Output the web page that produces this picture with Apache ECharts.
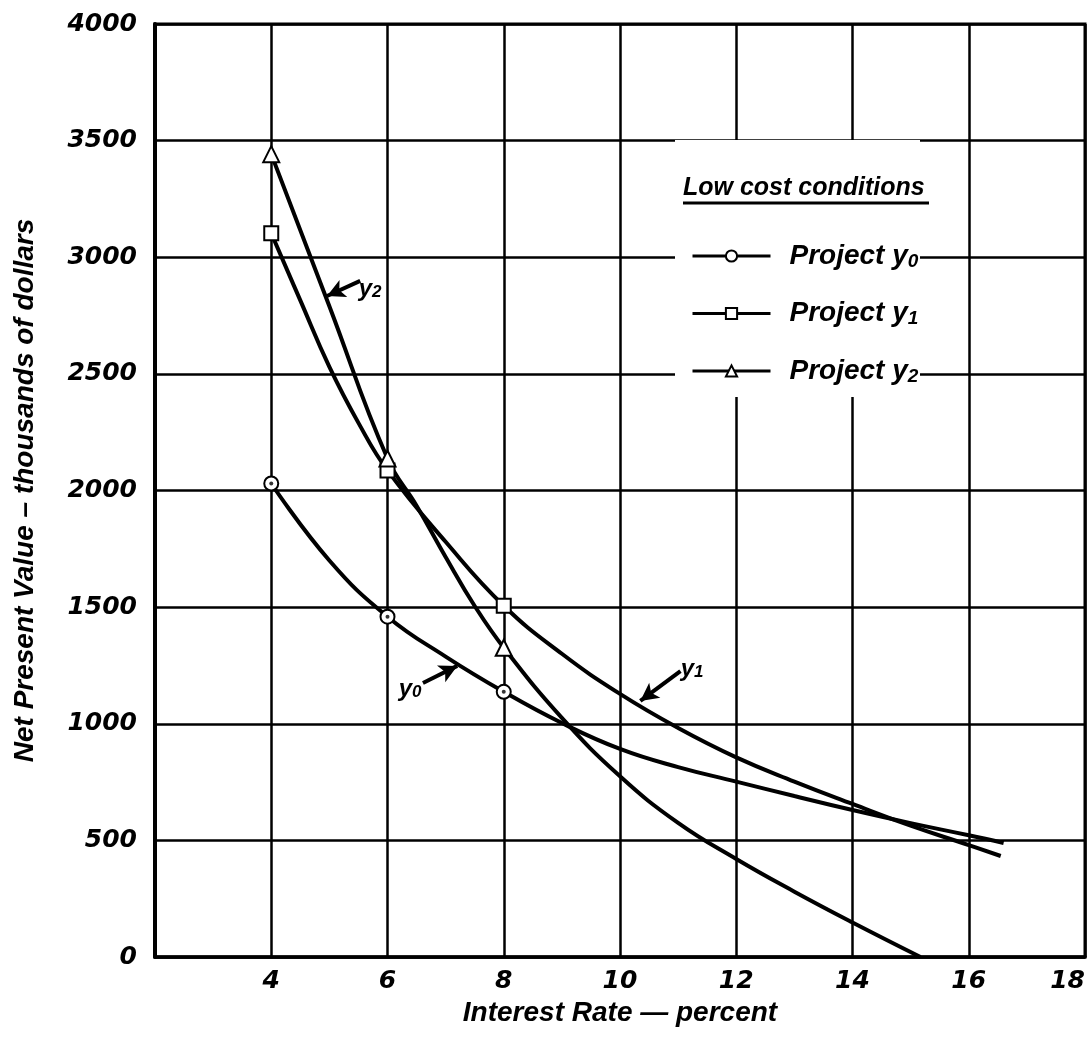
<!DOCTYPE html>
<html>
<head>
<meta charset="utf-8">
<title>Net Present Value vs Interest Rate</title>
<script src="https://cdn.jsdelivr.net/npm/echarts@6.0.0/dist/echarts.min.js"></script>
<style>
  html, body { margin: 0; padding: 0; background: #fff; }
  #chart { width: 1092px; height: 1037px; }
</style>
</head>
<body>
<div id="chart"></div>
<script>
// values (interest rate %, NPV in thousands of dollars)
const markerRates = [4, 6, 8];

const y0Rates = [4, 5, 6, 7, 8, 9, 10, 11, 12, 13, 14, 15, 16, 16.6];
const y0Values = [2030, 1700, 1459, 1288, 1137, 1003, 892, 814, 752, 690, 630, 574, 522, 489];

const y1Rates = [4, 4.5, 5, 5.5, 6, 7, 8, 9, 10, 11, 12, 13, 14, 15, 16, 16.55];
const y1Values = [3103, 2815, 2530, 2290, 2086, 1780, 1506, 1300, 1128, 982, 856, 752, 656, 563, 480, 433];

const y2Rates = [4, 5, 6, 6.5, 7, 7.5, 8, 9, 10, 11, 12, 13, 14, 15.17];
const y2Values = [3442, 2790, 2137, 1935, 1715, 1505, 1326, 1025, 775, 575, 420, 280, 148, 0];

// arrow annotations, in data units: [y0, y1, y2]
const arrowTails = [[6.61, 1175], [11.04, 1226], [5.53, 2899]];
const arrowTips = [[7.2, 1248], [10.35, 1098], [4.96, 2834]];
const labelSpots = [[6.39, 1149], [11.24, 1235], [5.7, 2864]];

const projectNames = ['Project y0', 'Project y1', 'Project y2'];
const projectSymbols = ['emptyCircle', 'emptyRect', 'emptyTriangle'];

const TICK_FONT = '"DejaVu Sans", sans-serif';
const TEXT_FONT = '"Liberation Sans", sans-serif';

const chart = echarts.init(document.getElementById('chart'));

// only the plotted points get a marker, the rest just shape the curve
const toData = (xs, ys) =>
  xs.map((x, i) => (markerRates.includes(x) ? [x, ys[i]] : { value: [x, ys[i]], symbol: 'none' }));

const subRich = {
  n: { fontFamily: TEXT_FONT, fontStyle: 'italic', fontWeight: 'bold', fontSize: 28, lineHeight: 30, color: '#000' },
  s: { fontFamily: TEXT_FONT, fontStyle: 'italic', fontWeight: 'bold', fontSize: 19, lineHeight: 10, verticalAlign: 'bottom', color: '#000' },
};

const labelRich = {
  n: { fontFamily: TEXT_FONT, fontStyle: 'italic', fontWeight: 'bold', fontSize: 24, lineHeight: 24, color: '#000' },
  s: { fontFamily: TEXT_FONT, fontStyle: 'italic', fontWeight: 'bold', fontSize: 17, lineHeight: 6, verticalAlign: 'bottom', color: '#000' },
};

const curves = [
  [y0Rates, y0Values],
  [y1Rates, y1Values],
  [y2Rates, y2Values],
];

const series = curves.map(([xs, ys], i) => ({
  name: projectNames[i],
  type: 'line',
  smooth: 0.45,
  symbol: projectSymbols[i],
  symbolSize: i === 2 ? 16 : 14,
  showAllSymbol: true,
  data: toData(xs, ys),
  lineStyle: { color: '#000', width: 4 },
  itemStyle: { color: '#000', borderWidth: 2.5 },
  z: 3,
  markLine: {
    silent: true,
    symbol: ['none', 'arrow'],
    symbolSize: [14, 18],
    lineStyle: { color: '#000', width: 4, type: 'solid' },
    label: { show: false },
    data: [[{ coord: arrowTails[i] }, { coord: arrowTips[i] }]],
  },
  markPoint: {
    silent: true,
    symbol: 'circle',
    symbolSize: 1,
    itemStyle: { color: 'rgba(0,0,0,0)' },
    label: {
      show: true,
      position: 'inside',
      formatter: '{n|y}{s|' + i + '}',
      rich: labelRich,
    },
    data: [{ coord: labelSpots[i] }],
  },
}));

// small dots inside the y0 circles
series.push({
  name: 'y0 dot',
  type: 'scatter',
  symbol: 'circle',
  symbolSize: 4,
  itemStyle: { color: '#000' },
  data: markerRates.map((x) => [x, y0Values[y0Rates.indexOf(x)]]),
  z: 4,
  silent: true,
});

const option = {
  backgroundColor: '#fff',
  animation: false,
  grid: {
    left: 155,
    right: 7,
    top: 24,
    bottom: 80,
    outerBoundsMode: 'none',
    show: true,
    borderColor: '#000',
    borderWidth: 3,
  },
  xAxis: {
    type: 'value',
    min: 2,
    max: 18,
    interval: 2,
    name: 'Interest Rate — percent',
    nameLocation: 'middle',
    nameGap: 40,
    nameTextStyle: { fontFamily: TEXT_FONT, fontStyle: 'italic', fontWeight: 'bold', fontSize: 28, color: '#000' },
    axisLine: { show: true, lineStyle: { color: '#000', width: 3.5 } },
    axisTick: { show: false },
    splitLine: { show: true, lineStyle: { color: '#000', width: 2.5 } },
    axisLabel: {
      margin: 12,
      fontFamily: TICK_FONT,
      fontStyle: 'italic',
      fontWeight: 'bold',
      fontSize: 25,
      color: '#000',
      alignMaxLabel: 'right',
      formatter: (v) => (v === 2 ? '' : String(v)),
    },
  },
  yAxis: {
    type: 'value',
    min: 0,
    max: 4000,
    interval: 500,
    name: 'Net Present Value – thousands of dollars',
    nameLocation: 'middle',
    nameRotate: 90,
    nameGap: 116,
    nameTextStyle: { fontFamily: TEXT_FONT, fontStyle: 'italic', fontWeight: 'bold', fontSize: 28, color: '#000' },
    axisLine: { show: true, lineStyle: { color: '#000', width: 4 } },
    axisTick: { show: false },
    splitLine: { show: true, lineStyle: { color: '#000', width: 2.5 } },
    axisLabel: {
      margin: 18,
      fontFamily: TICK_FONT,
      fontStyle: 'italic',
      fontWeight: 'bold',
      fontSize: 25,
      color: '#000',
      formatter: (v) => String(v),
    },
  },
  legend: {
    data: projectNames,
    orient: 'vertical',
    left: 691,
    top: 242,
    padding: 0,
    itemWidth: 78,
    itemHeight: 14,
    itemGap: 28.5,
    selectedMode: false,
    lineStyle: { width: 3 },
    textStyle: { padding: [0, 0, 0, 14], rich: subRich },
    formatter: (name) => '{n|Project y}{s|' + name.slice(-1) + '}',
  },
  graphic: [
    // white panel behind the key, the grid is broken there
    { type: 'rect', z: 1, shape: { x: 675, y: 140, width: 245, height: 257 }, style: { fill: '#fff' } },
    {
      type: 'text',
      z: 5,
      x: 683,
      y: 188,
      style: {
        text: 'Low cost conditions',
        font: 'italic bold 25px "Liberation Sans"',
        fill: '#000',
        verticalAlign: 'middle',
      },
    },
    { type: 'line', z: 5, shape: { x1: 683, y1: 203, x2: 929, y2: 203 }, style: { stroke: '#000', lineWidth: 3 } },
  ],
  series,
};

chart.setOption(option);
</script>
</body>
</html>
